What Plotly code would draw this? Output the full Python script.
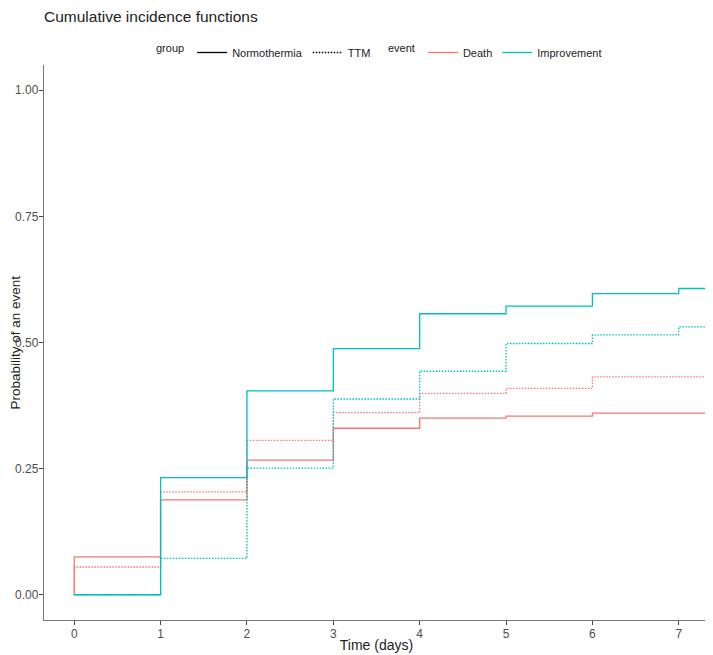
import plotly.graph_objects as go

times = [0, 1, 2, 3, 4, 5, 6, 7]
end_time = 7.5
death_normothermia = [0.075, 0.188, 0.267, 0.330, 0.350, 0.354, 0.360, 0.360]
death_ttm = [0.055, 0.204, 0.306, 0.361, 0.399, 0.409, 0.432, 0.432]
improvement_normothermia = [0.0, 0.232, 0.404, 0.488, 0.557, 0.572, 0.597, 0.607]
improvement_ttm = [0.0, 0.072, 0.251, 0.388, 0.443, 0.498, 0.515, 0.531]
y_ticks = [0, 0.25, 0.5, 0.75, 1.0]
x_ticks = [0, 1, 2, 3, 4, 5, 6, 7]

RED = "#F8766D"
CYAN = "#00BFC4"
FONT = "Liberation Sans, Arial, sans-serif"
DOT = "1.5px,1.5px"
W, H = 705, 647  # page has an 8px body margin

def step_xy(vals):
    x = [times[0]] + times + [end_time]
    y = [0.0] + vals + [vals[-1]]
    return x, y

fig = go.Figure()
series = [
    (death_normothermia, RED, "solid"),
    (death_ttm, RED, DOT),
    (improvement_normothermia, CYAN, "solid"),
    (improvement_ttm, CYAN, DOT),
]
for vals, color, dash in series:
    x, y = step_xy(vals)
    fig.add_trace(go.Scatter(x=x, y=y, mode="lines", line=dict(color=color, width=1.3, dash=dash, shape="hv"),
                             showlegend=False, hoverinfo="skip"))

# legend entries
fig.add_trace(go.Scatter(x=[None], y=[None], mode="lines", name="Normothermia",
                         line=dict(color="black", width=1.3), legend="legend"))
fig.add_trace(go.Scatter(x=[None], y=[None], mode="lines", name="TTM",
                         line=dict(color="black", width=1.3, dash=DOT), legend="legend"))
fig.add_trace(go.Scatter(x=[None], y=[None], mode="lines", name="Death",
                         line=dict(color=RED, width=1.3), legend="legend2"))
fig.add_trace(go.Scatter(x=[None], y=[None], mode="lines", name="Improvement",
                         line=dict(color=CYAN, width=1.3), legend="legend2"))

axis_common = dict(showgrid=False, zeroline=False, showline=True, linecolor="#777", linewidth=1.3,
                   ticks="outside", ticklen=4, tickcolor="#444", tickwidth=1, automargin=False,
                   ticklabelstandoff=-2, mirror=False,
                   tickfont=dict(family=FONT, size=12, color="#4d4d4d"))

fig.update_layout(
    template="none",
    width=W, height=H,
    margin=dict(l=36, r=4, t=57, b=35, autoexpand=False),
    plot_bgcolor="white", paper_bgcolor="white",
    font=dict(family=FONT, color="#222"),
    title=dict(text="Cumulative incidence functions", x=0, xanchor="left", xref="paper",
               y=1-9/H, yanchor="middle", yref="container", font=dict(size=15.5, color="#222")),
    xaxis=dict(range=[-0.35, 7.35], tickvals=x_ticks, ticktext=[str(t) for t in x_ticks],
               title=dict(text="Time (days)", font=dict(size=14, color="#222"), standoff=0), **axis_common),
    yaxis=dict(range=[-0.05, 1.05], tickvals=y_ticks, tickformat=".2f", **axis_common),
    annotations=[dict(text="Probability of an event", textangle=-90, xref="paper", yref="paper",
                      x=0, y=0.5, xanchor="center", yanchor="middle", xshift=-29, showarrow=False,
                      borderpad=0, font=dict(family=FONT, size=13.5, color="#222"))],
    legend=dict(orientation="h", xref="container", yref="container", x=368/W, xanchor="right",
                y=1-30/H, yanchor="top", title=dict(text="group", side="left", font=dict(size=11)),
                font=dict(size=11, color="#222"), itemwidth=30, bgcolor="rgba(0,0,0,0)"),
    legend2=dict(orientation="h", xref="container", yref="container", x=378/W, xanchor="left",
                 y=1-30/H, yanchor="top", title=dict(text="event", side="left", font=dict(size=11)),
                 font=dict(size=11, color="#222"), itemwidth=30, bgcolor="rgba(0,0,0,0)"),
)

fig.write_html("out.html")
